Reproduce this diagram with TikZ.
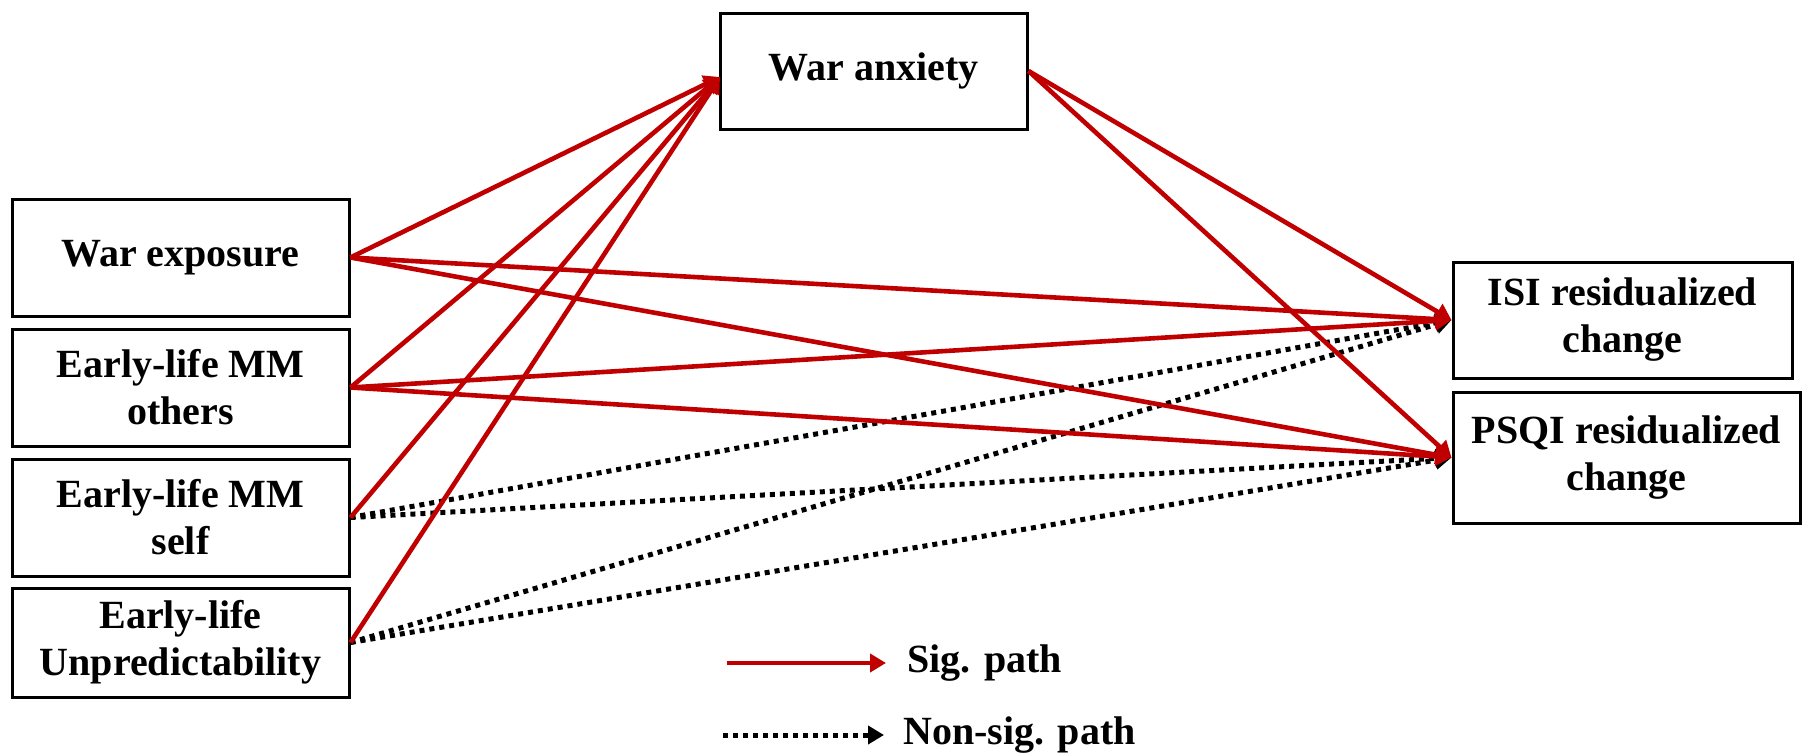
\documentclass[tikz,border=0pt]{standalone}
\usepackage{fontspec}
\setmainfont{Liberation Serif}
\usetikzlibrary{arrows.meta}
\definecolor{sigred}{RGB}{192,0,0}
\begin{document}
\begin{tikzpicture}[x=0.5pt,y=-0.5pt,
  box/.style={draw=black,line width=1.5pt,fill=white,align=center,inner sep=0pt,
    font=\fontsize{20pt}{23.5pt}\selectfont\bfseries},
  sig/.style={draw=sigred,line width=2.3pt,-{Triangle[length=8pt,width=9pt]}},
  nonsig/.style={draw=black,line width=2.5pt,dash pattern=on 2.5pt off 2.5pt,
    -{Triangle[length=8pt,width=9pt]}},
  legtext/.style={anchor=west,inner sep=0pt,font=\fontsize{20pt}{23.5pt}\selectfont\bfseries}]
\useasboundingbox (0,0) rectangle (1806,755);
% nodes
\node[box,minimum width=168.5pt,minimum height=58.5pt] (we) at (180.5,257.5) {War exposure};
\node[box,minimum width=168.5pt,minimum height=58.5pt] (mo) at (180.5,387.5) {Early-life MM\\others};
\node[box,minimum width=168.5pt,minimum height=58.5pt] (ms) at (180.5,517.5) {Early-life MM\\self};
\node[box,minimum width=168.5pt,minimum height=54.5pt] (un) at (180.5,642.5) {Early-life\\Unpredictability};
\node[box,minimum width=153.5pt,minimum height=58pt] (wa) at (873.5,71) {War anxiety};
\node[box,minimum width=169.5pt,minimum height=58pt] (isi) at (1622.5,320) {ISI residualized\\change};
\node[box,minimum width=173.5pt,minimum height=65.5pt] (psqi) at (1626.5,457.5) {PSQI residualized\\change};
\coordinate (wain) at (720,77);
% non-significant paths
\draw[nonsig] (ms.east) -- (isi.west);
\draw[nonsig] (ms.east) -- (psqi.west);
\draw[nonsig] (un.east) -- (isi.west);
\draw[nonsig] (un.east) -- (psqi.west);
% significant paths
\draw[sig] (we.east) -- (wain);
\draw[sig] (mo.east) -- (wain);
\draw[sig] (ms.east) -- (wain);
\draw[sig] (un.east) -- (wain);
\draw[sig] (we.east) -- (isi.west);
\draw[sig] (we.east) -- (psqi.west);
\draw[sig] (mo.east) -- (isi.west);
\draw[sig] (mo.east) -- (psqi.west);
\draw[sig] (wa.east) -- (isi.west);
\draw[sig] (wa.east) -- (psqi.west);
% legend
\coordinate (l1a) at (727,663);
\coordinate (l1b) at (886,663);
\coordinate (l2a) at (723,735);
\coordinate (l2b) at (884,735);
\draw[sig] (l1a) -- (l1b);
\draw[nonsig] (l2a) -- (l2b);
\node[legtext] (lt1) at (907,663) {Sig. path};
\node[legtext] (lt2) at (903,735) {Non-sig. path};
\end{tikzpicture}
\end{document}
